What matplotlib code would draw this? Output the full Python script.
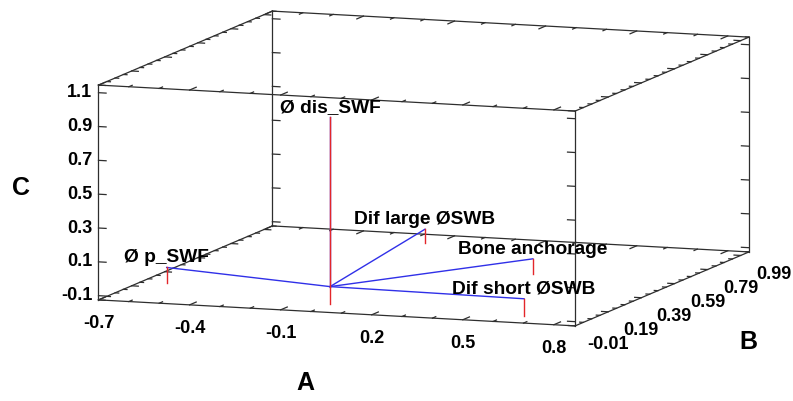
import numpy as np
import matplotlib
matplotlib.use("Agg")
import matplotlib.pyplot as plt
from mpl_toolkits.mplot3d import proj3d

plt.rcParams['font.family'] = ['Liberation Sans', 'DejaVu Sans']
plt.rcParams['font.weight'] = 'bold'

# --- data: variable vectors (A, B, C components) ---
names = ["Ø dis_SWF", "Ø p_SWF", "Dif large ØSWB", "Bone anchorage", "Dif short ØSWB"]
comp_a = [0.03, -0.59, -0.11, 0.42, 0.68]
comp_b = [0.05, 0.20, 0.88, 0.56, 0.03]
comp_c = [1.00, -0.01, -0.02, -0.01, 0.00]
centre = (0.03, 0.05, 0.0)
floor_c = -0.1

# axis ticks / limits
a_ticks = [-0.7, -0.4, -0.1, 0.2, 0.5, 0.8]
b_ticks = [-0.01, 0.19, 0.39, 0.59, 0.79, 0.99]
c_ticks = [-0.1, 0.1, 0.3, 0.5, 0.7, 0.9, 1.1]
a_lim = (-0.7, 0.87)
b_lim = (-0.01, 1.04)
c_lim = (-0.125, 1.145)

W, H = 793, 401
box_dims = (506.6, 516.2, 217.5)

fig = plt.figure(figsize=(W / 100, H / 100), dpi=100)
ax = fig.add_axes([0, 0, 1, 1], projection='3d', proj_type='ortho', computed_zorder=False)
ax.view_init(elev=8.76, azim=-70.3)
ax.set_xlim(*a_lim)
ax.set_ylim(*b_lim)
ax.set_zlim(*c_lim)
ax.set_box_aspect(box_dims, zoom=1.0)
ax.set_axis_off()


def to_px(x, y, z):
    xs, ys, _ = proj3d.proj_transform(x, y, z, ax.get_proj())
    return np.array(ax.transData.transform((float(xs), float(ys))))


# fit the projected box onto the reference frame
target_lo = np.array([98.5, H - 299.0])
target_hi = np.array([749.0, H - 38.0])
zoom = 1.0
pos = [0.0, 0.0, 1.0, 1.0]
for _ in range(4):
    fig.canvas.draw()
    lo = to_px(a_lim[0], b_lim[0], c_lim[0])
    hi = to_px(a_lim[1], b_lim[1], c_lim[1])
    zoom *= (target_hi[0] - target_lo[0]) / (hi[0] - lo[0])
    shift = (target_lo + target_hi) / 2 - (lo + hi) / 2
    pos[0] += shift[0] / W
    pos[1] += shift[1] / H
    ax.set_box_aspect(box_dims, zoom=zoom)
    ax.set_position(pos)
fig.canvas.draw()


def seg(p, q, **kw):
    ax.plot([p[0], q[0]], [p[1], q[1]], [p[2], q[2]], clip_on=False, **kw)


def label3d(x, y, z, s, dx=0, dy=0, **kw):
    # place a 2D figure text at the projected 3D point (+ pixel offset)
    px, py = to_px(x, y, z)
    fig.text((px + dx) / W, (py + dy) / H, s, fontweight='bold', **kw)


box_kw = dict(color='#2e2e2e', lw=0.9, zorder=2)

# box edges
for b0 in b_lim:
    for c0 in c_lim:
        seg((a_lim[0], b0, c0), (a_lim[1], b0, c0), **box_kw)
for a0 in a_lim:
    for c0 in c_lim:
        seg((a0, b_lim[0], c0), (a0, b_lim[1], c0), **box_kw)
for a0 in a_lim:
    for b0 in b_lim:
        seg((a0, b0, c_lim[0]), (a0, b0, c_lim[1]), **box_kw)

# tick marks on all edges
a_minor = np.arange(-0.7, 0.871, 0.1)
b_minor = np.arange(-0.01, 1.041, 0.05)
for a0 in a_lim:
    d = 1 if a0 == a_lim[0] else -1
    for b0 in b_lim:
        for c in c_ticks:
            seg((a0, b0, c), (a0 + d * 0.025, b0, c), **box_kw)
    for c0 in c_lim:
        for b in b_minor:
            ln = 0.022 if any(abs(b - t) < 1e-6 for t in b_ticks) else 0.012
            seg((a0, b, c0), (a0 + d * ln, b, c0), **box_kw)
for b0 in b_lim:
    d = 1 if b0 == b_lim[0] else -1
    for c0 in c_lim:
        for a in a_minor:
            ln = 0.04 if any(abs(a - t) < 1e-6 for t in a_ticks) else 0.02
            seg((a, b0, c0), (a, b0 + d * ln, c0), **box_kw)

# vectors
for a, b, c in zip(comp_a, comp_b, comp_c):
    seg(centre, (a, b, c), color='#3030e8', lw=1.0, zorder=3)
for a, b, c in zip(comp_a, comp_b, comp_c):
    seg((a, b, c), (a, b, floor_c), color='#e3262a', lw=1.0, zorder=4)
for name, a, b, c in zip(names, comp_a, comp_b, comp_c):
    label3d(a, b, c, name, 0, 5, ha='center', va='baseline', fontsize=13.8, zorder=6)

# tick labels
for c in c_ticks:
    label3d(a_lim[0], b_lim[0], c, f"{c:.1f}", -6, 0, ha='right', va='center', fontsize=13)
for a in a_ticks:
    label3d(a, b_lim[0], c_lim[0], f"{a:.1f}", 0, -24, ha='center', va='center', fontsize=13)
for b in b_ticks:
    label3d(a_lim[1], b, c_lim[0], f"{b:.2f}", 33, -19, ha='center', va='center', fontsize=13)

# axis titles
fig.text(21 / W, 1 - 188 / H, "C", ha='center', va='center', fontsize=18, fontweight='bold')
fig.text(305 / W, 1 - 383 / H, "A", ha='center', va='center', fontsize=18, fontweight='bold')
fig.text(748 / W, 1 - 342 / H, "B", ha='center', va='center', fontsize=18, fontweight='bold')

fig.savefig("out.png", dpi=100)
